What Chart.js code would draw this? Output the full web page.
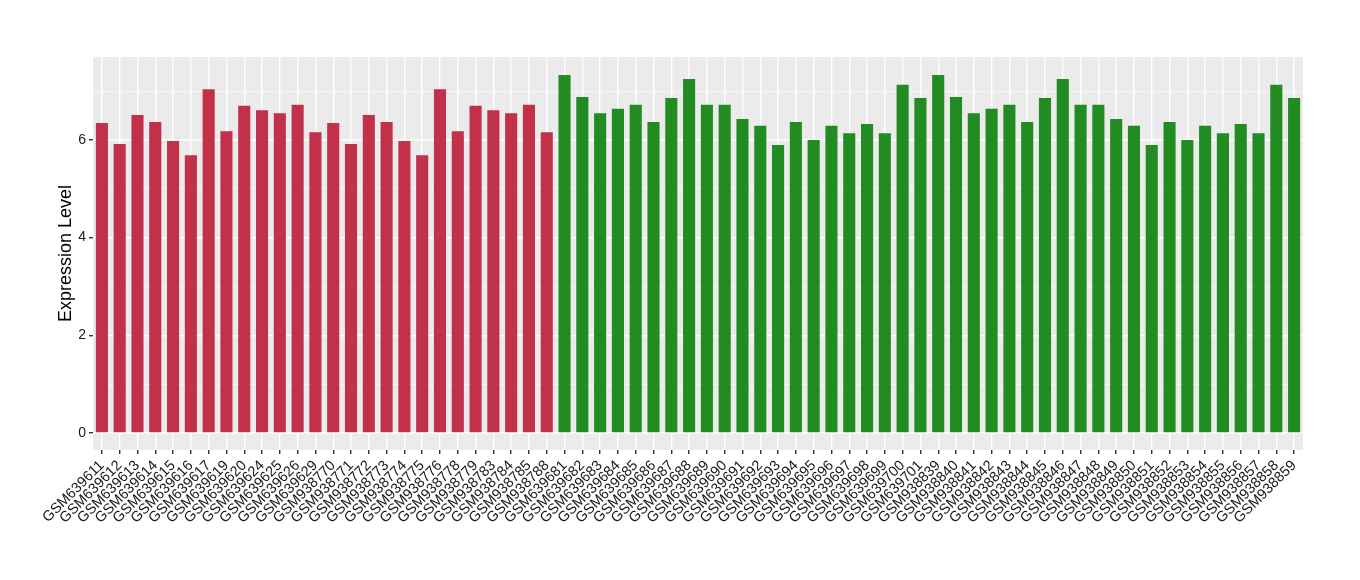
<!DOCTYPE html>
<html>
<head>
<meta charset="utf-8">
<script src="https://cdn.jsdelivr.net/npm/chart.js@4/dist/chart.umd.min.js"></script>
<style>
  html, body { margin: 0; padding: 0; background: #fff; }
  #wrap { width: 1360px; height: 580px; }
</style>
</head>
<body>
<div id="wrap"><canvas id="myChart" width="1360" height="580"></canvas></div>
<script>
// samples
var redSamples = ["GSM639611","GSM639612","GSM639613","GSM639614","GSM639615","GSM639616","GSM639617","GSM639619","GSM639620","GSM639624","GSM639625","GSM639626","GSM639629",
  "GSM938770","GSM938771","GSM938772","GSM938773","GSM938774","GSM938775","GSM938776","GSM938778","GSM938779","GSM938783","GSM938784","GSM938785","GSM938788"];
var redValues = [6.35,5.92,6.51,6.37,5.98,5.69,7.04,6.18,6.70,6.61,6.55,6.72,6.16,
  6.35,5.92,6.51,6.37,5.98,5.69,7.04,6.18,6.70,6.61,6.55,6.72,6.16];

var greenSamples = ["GSM639681","GSM639682","GSM639683","GSM639684","GSM639685","GSM639686","GSM639687","GSM639688","GSM639689","GSM639690","GSM639691","GSM639692","GSM639693","GSM639694","GSM639695","GSM639696","GSM639697","GSM639698","GSM639699","GSM639700","GSM639701",
  "GSM938839","GSM938840","GSM938841","GSM938842","GSM938843","GSM938844","GSM938845","GSM938846","GSM938847","GSM938848","GSM938849","GSM938850","GSM938851","GSM938852","GSM938853","GSM938854","GSM938855","GSM938856","GSM938857","GSM938858","GSM938859"];
var greenValues = [7.33,6.88,6.55,6.64,6.72,6.37,6.86,7.25,6.72,6.72,6.43,6.29,5.90,6.37,6.00,6.29,6.14,6.33,6.14,7.13,6.86,
  7.33,6.88,6.55,6.64,6.72,6.37,6.86,7.25,6.72,6.72,6.43,6.29,5.90,6.37,6.00,6.29,6.14,6.33,6.14,7.13,6.86];

var yTickLabels = ["0","2","4","6"];

var RED = "#C3304A";
var GREEN = "#228B22";

var labels = redSamples.concat(greenSamples);
var values = redValues.concat(greenValues);
var colors = labels.map(function (l, i) { return i < redSamples.length ? RED : GREEN; });

// grey ggplot-like panel behind the plot area
var panelBg = {
  id: "panelBg",
  beforeDraw: function (chart) {
    var a = chart.chartArea;
    var ctx = chart.ctx;
    ctx.save();
    ctx.fillStyle = "#EBEBEB";
    ctx.fillRect(a.left, a.top, a.right - a.left, a.bottom - a.top);
    ctx.restore();
  }
};

var ctx = document.getElementById("myChart").getContext("2d");
var myChart = new Chart(ctx, {
  type: "bar",
  data: {
    labels: labels,
    datasets: [{
      data: values,
      backgroundColor: colors,
      borderWidth: 0,
      categoryPercentage: 1,
      barPercentage: 0.68
    }]
  },
  options: {
    responsive: false,
    animation: false,
    layout: { padding: { left: 0, right: 57, top: 57, bottom: 0 } },
    plugins: { legend: { display: false }, tooltip: { enabled: false } },
    scales: {
      x: {
        offset: true,
        grid: {
          offset: false,
          color: "#FFFFFF",
          lineWidth: 1.4,
          tickColor: "#333333",
          tickLength: 4
        },
        border: { display: false },
        ticks: {
          autoSkip: false,
          maxRotation: 45,
          minRotation: 45,
          padding: 3,
          color: "#1A1A1A",
          font: { family: "Liberation Sans, Arial, sans-serif", size: 14.5 }
        },
        afterFit: function (s) { s.height = 130; }
      },
      y: {
        min: -0.35,
        max: 7.7,
        grid: {
          color: "#FFFFFF",
          lineWidth: function (c) { return c.tick && c.tick.value % 2 === 0 ? 1.4 : 0.6; },
          tickColor: function (c) { return c.tick && c.tick.value % 2 === 0 ? "#333333" : "rgba(0,0,0,0)"; },
          tickLength: 4
        },
        border: { display: false },
        ticks: {
          stepSize: 1,
          includeBounds: false,
          padding: 3,
          color: "#1A1A1A",
          font: { family: "Liberation Sans, Arial, sans-serif", size: 14 },
          callback: function (v) {
            return v % 2 === 0 ? yTickLabels[v / 2] : "";
          }
        },
        title: {
          display: true,
          text: "Expression Level",
          color: "#000000",
          font: { family: "Liberation Sans, Arial, sans-serif", size: 18 },
          padding: { top: 55, bottom: 0 }
        },
        afterFit: function (s) { s.width = 93; }
      }
    }
  },
  plugins: [panelBg]
});
</script>
</body>
</html>
